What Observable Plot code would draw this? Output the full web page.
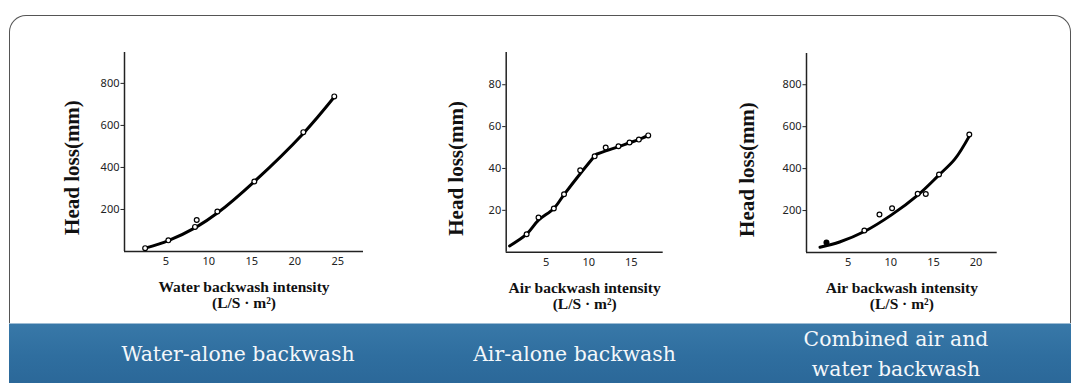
<!DOCTYPE html>
<html>
<head>
<meta charset="utf-8">
<script src="https://cdn.jsdelivr.net/npm/d3@7"></script>
<script src="https://cdn.jsdelivr.net/npm/@observablehq/plot@0.6"></script>
<style>
  html, body { margin: 0; padding: 0; background: #fff; }
  #wrap { position: relative; width: 1080px; height: 388px; overflow: hidden; background: #fff; }
  .box { position: absolute; left: 9px; top: 15px; width: 1060px; height: 308px;
         border: 1.5px solid #555; border-bottom: none; border-radius: 17px 17px 0 0; background: #fff; }
  .panel { position: absolute; top: 0; }
  .band { position: absolute; left: 9px; top: 323px; width: 1062px; height: 59px;
          background: linear-gradient(180deg, #3878a8 0%, #2f6e9f 55%, #2b6899 100%);
          border-top: 1px solid #9dbcd4; }
  .bl { position: absolute; color: #f4f7fa; font-family: "DejaVu Serif", serif; font-size: 20.4px;
        text-align: center; line-height: 30px; transform: translate(-50%, -50%); white-space: nowrap; }
</style>
</head>
<body>
<div id="wrap">
  <div class="box"></div>
  <div id="p1" class="panel" style="left:0px"></div>
  <div id="p2" class="panel" style="left:380px"></div>
  <div id="p3" class="panel" style="left:690px"></div>
  <div class="band" id="band"></div>
</div>
<script>
// ---------- data ----------
const yLabel = "Head loss(mm)";
const xLabels = ["Water backwash intensity\n(L/S · m²)", "Air backwash intensity\n(L/S · m²)", "Air backwash intensity\n(L/S · m²)"];
const bandLabels = ["Water-alone backwash", "Air-alone backwash", "Combined air and\nwater backwash"];

// Panel 1: water-alone
const waterPtsX = [2.6, 5.3, 8.4, 8.6, 11.0, 15.3, 21.0, 24.6];
const waterPtsY = [16, 53, 117, 150, 190, 333, 568, 738];
const waterCurveX = [2.6, 5.3, 8.5, 11.0, 15.3, 21.0, 24.6];
const waterCurveY = [16, 52, 115, 183, 333, 562, 735];
const waterXTicks = [5, 10, 15, 20, 25];
const waterYTicks = [200, 400, 600, 800];

// Panel 2: air-alone
const airPtsX = [2.7, 4.1, 5.9, 7.1, 9.0, 10.7, 12.0, 13.5, 14.8, 15.9, 17.0];
const airPtsY = [8.6, 16.6, 20.9, 27.7, 39.1, 45.8, 50.0, 50.6, 52.4, 53.8, 55.8];
const airCurve1X = [0.7, 2.7, 4.1, 5.9, 7.1, 9.0, 10.6];
const airCurve1Y = [3, 8.6, 15.3, 20.9, 27.5, 37.5, 45.5];
const airCurve2X = [10.9, 12.0, 13.5, 14.8, 15.9, 17.0];
const airCurve2Y = [46.8, 48.4, 50.4, 52.3, 53.8, 55.8];
const airXTicks = [5, 10, 15];
const airYTicks = [20, 40, 60, 80];

// Panel 3: combined
const comboPtsX = [6.9, 8.67, 10.15, 13.15, 14.1, 15.65, 19.2];
const comboPtsY = [105, 181, 211, 280, 279, 372, 563];
const comboFilledX = [2.46];
const comboFilledY = [47.7];
const comboCurveX = [1.7, 4.0, 6.9, 10.0, 13.2, 15.6, 17.5, 19.2];
const comboCurveY = [25, 50, 100, 177, 275, 368, 445, 555];
const comboXTicks = [5, 10, 15, 20];
const comboYTicks = [200, 400, 600, 800];

// ---------- drawing ----------
const pts = (xs, ys) => xs.map((x, i) => ({x, y: ys[i]}));

function panel(o) {
  return Plot.plot({
    width: o.width, height: 320,
    marginLeft: o.mL, marginRight: o.mR, marginTop: o.mT, marginBottom: o.mB,
    x: {domain: o.xDomain},
    y: {domain: o.yDomain},
    style: {background: "transparent", fontFamily: "'Noto Sans', sans-serif", fontSize: "11px", color: "#222", overflow: "visible"},
    marks: [
      Plot.axisX({ticks: o.xTicks, tickSize: 0, tickPadding: 6, label: null}),
      Plot.axisY({ticks: o.yTicks, tickSize: 3.5, tickPadding: 1.5, label: null, stroke: "#222"}),
      Plot.ruleX([o.xDomain[0]], {stroke: "#222", strokeWidth: 1.5}),
      Plot.ruleY([o.yDomain[0]], {stroke: "#222", strokeWidth: 1.5}),
      ...o.curves.map(c => Plot.line(c, {x: "x", y: "y", curve: "catmull-rom", stroke: "#000", strokeWidth: 3})),
      Plot.dot(o.points, {x: "x", y: "y", r: 2.4, fill: "white", stroke: "#000", strokeWidth: 1.2}),
      ...(o.filled ? [Plot.dot(o.filled, {x: "x", y: "y", r: 3, fill: "#000"})] : []),
      Plot.text([yLabel], {frameAnchor: "left", textAnchor: "middle", rotate: -90, dx: o.yLabelDx, dy: o.yLabelDy,
        fontFamily: "'Liberation Serif', serif", fontWeight: "bold", fontSize: 21, fill: "#111"}),
      Plot.text([o.xLabel], {frameAnchor: "bottom", lineAnchor: "top", dy: 29, lineHeight: 1.05,
        fontFamily: "'Liberation Serif', serif", fontWeight: "bold", fontSize: 15.5, fill: "#111"})
    ]
  });
}

document.getElementById("p1").append(panel({
  width: 380, mL: 124, mR: 17, mT: 52, mB: 69,
  xDomain: [0.2, 28], yDomain: [0, 947],
  xTicks: waterXTicks, yTicks: waterYTicks,
  points: pts(waterPtsX, waterPtsY),
  curves: [pts(waterCurveX, waterCurveY)],
  xLabel: xLabels[0], yLabelDx: -52, yLabelDy: 15.5
}));

document.getElementById("p2").append(panel({
  width: 310, mL: 125.7, mR: 27.3, mT: 52, mB: 68.3,
  xDomain: [0.3, 18.76], yDomain: [0, 95.4],
  xTicks: airXTicks, yTicks: airYTicks,
  points: pts(airPtsX, airPtsY),
  curves: [pts(airCurve1X, airCurve1Y), pts(airCurve2X, airCurve2Y)],
  xLabel: xLabels[1], yLabelDx: -50, yLabelDy: 16
}));

document.getElementById("p3").append(panel({
  width: 390, mL: 116, mR: 83.3, mT: 53, mB: 68,
  xDomain: [0.12, 22.47], yDomain: [0, 949],
  xTicks: comboXTicks, yTicks: comboYTicks,
  points: pts(comboPtsX, comboPtsY),
  filled: pts(comboFilledX, comboFilledY),
  curves: [pts(comboCurveX, comboCurveY)],
  xLabel: xLabels[2], yLabelDx: -59, yLabelDy: 16.5
}));

// band labels
const bandCenters = [238, 574.5, 896];
const band = document.getElementById("band");
bandLabels.forEach((t, i) => {
  const d = document.createElement("div");
  d.className = "bl";
  d.style.left = (bandCenters[i] - 9) + "px";
  d.style.top = "30px";
  t.split("\n").forEach((line, j) => {
    if (j) d.append(document.createElement("br"));
    d.append(document.createTextNode(line));
  });
  band.append(d);
});
</script>
</body>
</html>
